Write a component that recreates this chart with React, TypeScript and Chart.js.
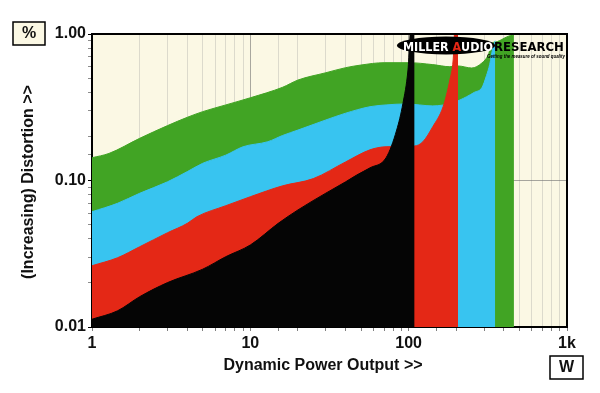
import React, { useEffect, useRef } from "react";
import { Chart, registerables } from "chart.js";

Chart.register(...registerables);

// Power (W) and distortion (%) for each load/series
const blackW = [1, 1.45, 2, 3, 5, 7, 10, 15, 20, 30, 40, 47, 57, 72, 84, 92, 99, 104, 109];
const blackPct = [0.0113, 0.0129, 0.0161, 0.0201, 0.0248, 0.0302, 0.0363, 0.051, 0.063, 0.082, 0.098, 0.109, 0.122, 0.143, 0.221, 0.336, 0.568, 1.2, 1.2];

const redW = [1, 1.45, 2, 3, 4, 4.6, 7, 10, 16, 25, 40, 57, 72, 109, 123, 142, 165, 182, 191, 197, 205];
const redPct = [0.0262, 0.0297, 0.0353, 0.044, 0.051, 0.0566, 0.0673, 0.0775, 0.092, 0.103, 0.134, 0.162, 0.17, 0.172, 0.184, 0.233, 0.319, 0.485, 0.665, 1.2, 1.2];

const blueW = [1, 1.45, 2, 3, 4, 5, 7, 9, 12.9, 16, 20, 30, 40, 57, 72, 96, 142, 191, 232, 260, 290, 310, 325, 340, 352];
const bluePct = [0.0612, 0.0699, 0.0818, 0.098, 0.115, 0.131, 0.149, 0.17, 0.184, 0.203, 0.221, 0.259, 0.288, 0.319, 0.328, 0.333, 0.323, 0.34, 0.373, 0.4, 0.43, 0.52, 0.62, 0.8, 0.9];

const greenW = [1, 1.28, 2, 3, 4, 5, 7, 10, 16, 20, 30, 40, 50, 70, 100, 142, 182, 205, 250, 290, 318, 337, 352, 455, 462];
const greenPct = [0.143, 0.153, 0.194, 0.237, 0.27, 0.295, 0.328, 0.367, 0.433, 0.485, 0.544, 0.589, 0.614, 0.637, 0.637, 0.618, 0.598, 0.605, 0.586, 0.634, 0.719, 0.868, 0.88, 0.98, 0.98];

const xTickValues = [1, 10, 100, 1000];
const xTickLabels = ["1", "10", "100", "1k"];
const yTickValues = [0.01, 0.1, 1];
const yTickLabels = ["0.01", "0.10", "1.00"];

const COLORS = {
  black: "#050505",
  red: "#E42816",
  blue: "#38C4F0",
  green: "#41A424",
  cream: "#FBF8E4",
};

const near = (a: number, b: number) => Math.abs(Math.log10(a) - Math.log10(b)) < 1e-6;
const isDecade = (v: number) => {
  const l = Math.log10(v);
  return Math.abs(l - Math.round(l)) < 1e-6;
};
const labelFor = (v: number, vals: number[], labels: string[]) => {
  for (let i = 0; i < vals.length; i++) if (near(v, vals[i])) return labels[i];
  return "";
};

const toPoints = (xs: number[], ys: number[]) => xs.map((x, i) => ({ x, y: ys[i] }));

const FONT = "'Liberation Sans', Arial, sans-serif";

const decorPlugin = {
  id: "decor",
  beforeDraw(chart: any) {
    const { ctx, chartArea } = chart;
    ctx.save();
    ctx.fillStyle = "#ffffff";
    ctx.fillRect(0, 0, chart.width, chart.height);
    ctx.fillStyle = COLORS.cream;
    ctx.fillRect(chartArea.left, chartArea.top, chartArea.right - chartArea.left, chartArea.bottom - chartArea.top);
    ctx.restore();
  },
  afterDraw(chart: any) {
    const { ctx, chartArea } = chart;
    const { left, top, right, bottom } = chartArea;
    ctx.save();
    // frame top & right
    ctx.strokeStyle = "#000";
    ctx.lineWidth = 2;
    ctx.beginPath();
    ctx.moveTo(left, top);
    ctx.lineTo(right, top);
    ctx.lineTo(right, bottom);
    ctx.stroke();

    // axis titles
    ctx.fillStyle = "#111";
    ctx.font = `bold 16px ${FONT}`;
    ctx.textAlign = "center";
    ctx.textBaseline = "alphabetic";
    ctx.fillText("Dynamic Power Output >>", 323, 370);
    ctx.save();
    ctx.translate(33, 182);
    ctx.rotate(-Math.PI / 2);
    ctx.fillText("(Increasing) Distortion >>", 0, 0);
    ctx.restore();

    // unit boxes
    ctx.lineWidth = 1.5;
    ctx.fillStyle = COLORS.cream;
    ctx.fillRect(13, 22, 32, 23);
    ctx.strokeRect(13, 22, 32, 23);
    ctx.fillStyle = "#111";
    ctx.textBaseline = "middle";
    ctx.fillText("%", 29, 34);
    ctx.fillStyle = "#fff";
    ctx.fillRect(550, 356, 33, 23);
    ctx.strokeRect(550, 356, 33, 23);
    ctx.fillStyle = "#111";
    ctx.fillText("W", 566.5, 368);

    // logo
    ctx.fillStyle = "#000";
    ctx.beginPath();
    ctx.ellipse(446, 45.5, 49, 9, 0, 0, Math.PI * 2);
    ctx.fill();
    ctx.textBaseline = "alphabetic";
    ctx.textAlign = "left";
    ctx.font = `bold 13px 'Liberation Sans Narrow', 'DejaVu Sans Condensed', ${FONT}`;
    const parts = [
      { t: "MILLER ", c: "#fff" },
      { t: "A", c: COLORS.red },
      { t: "UDIO", c: "#fff" },
    ];
    const total = parts.reduce((s, p) => s + ctx.measureText(p.t).width, 0);
    const scale = 90 / total;
    ctx.save();
    ctx.translate(403, 50.5);
    ctx.scale(scale, 1);
    let off = 0;
    for (const p of parts) {
      ctx.fillStyle = p.c;
      ctx.fillText(p.t, off, 0);
      off += ctx.measureText(p.t).width;
    }
    ctx.restore();
    ctx.fillStyle = "#000";
    ctx.fillText("RESEARCH", 494, 50.5, 71);
    ctx.font = `italic bold 6px ${FONT}`;
    ctx.fillText("Getting the measure of sound quality", 487, 58, 78);
    ctx.restore();
  },
};

export default function App() {
  const ref = useRef<HTMLCanvasElement | null>(null);

  useEffect(() => {
    if (!ref.current) return;
    const mk = (label: string, xs: number[], ys: number[], color: string, order: number) => ({
      label,
      data: toPoints(xs, ys),
      backgroundColor: color,
      borderColor: color,
      borderWidth: 1,
      pointRadius: 0,
      fill: "start",
      tension: 0,
      cubicInterpolationMode: "monotone" as const,
      order,
    });
    const chart = new Chart(ref.current, {
      type: "line",
      data: {
        datasets: [
          mk("A", blackW, blackPct, COLORS.black, 1),
          mk("B", redW, redPct, COLORS.red, 2),
          mk("C", blueW, bluePct, COLORS.blue, 3),
          mk("D", greenW, greenPct, COLORS.green, 4),
        ],
      },
      options: {
        animation: false,
        responsive: false,
        devicePixelRatio: 1,
        layout: { padding: { left: 0, right: 33, top: 34, bottom: 0 } },
        plugins: { legend: { display: false }, tooltip: { enabled: false } },
        scales: {
          x: {
            type: "logarithmic",
            min: 1,
            max: 1000,
            position: "bottom",
            z: 1,
            afterFit: (s: any) => {
              s.height = 66;
            },
            border: { display: true, color: "#000", width: 2 },
            grid: {
              color: (c: any) => (isDecade(c.tick.value) ? "rgba(100,100,100,0.55)" : "rgba(150,150,150,0.3)"),
              lineWidth: 1,
              drawTicks: true,
              tickLength: 4,
              tickColor: "rgba(0,0,0,0.5)",
            },
            ticks: {
              autoSkip: false,
              maxRotation: 0,
              padding: 3,
              color: "#111",
              font: { family: FONT, size: 16, weight: "bold" },
              callback: (v: any) => labelFor(Number(v), xTickValues, xTickLabels),
            },
          },
          y: {
            type: "logarithmic",
            min: 0.01,
            max: 1,
            position: "left",
            z: 1,
            afterFit: (s: any) => {
              s.width = 92;
            },
            border: { display: true, color: "#000", width: 2 },
            grid: {
              color: (c: any) => (near(c.tick.value, 0.1) ? "rgba(110,110,110,0.6)" : "rgba(0,0,0,0)"),
              lineWidth: 1,
              drawTicks: true,
              tickLength: 4,
              tickColor: (c: any) => (isDecade(c.tick.value) ? "#000" : "rgba(0,0,0,0.45)"),
            },
            ticks: {
              autoSkip: false,
              padding: 2,
              color: "#111",
              font: { family: FONT, size: 16, weight: "bold" },
              callback: (v: any) => labelFor(Number(v), yTickValues, yTickLabels),
            },
          },
        },
      } as any,
      plugins: [decorPlugin],
    });
    return () => chart.destroy();
  }, []);

  return (
    <div style={{ position: "absolute", left: 0, top: 0, width: 600, height: 393, background: "#fff" }}>
      <canvas ref={ref} width={600} height={393} style={{ display: "block", width: 600, height: 393 }} />
    </div>
  );
}
